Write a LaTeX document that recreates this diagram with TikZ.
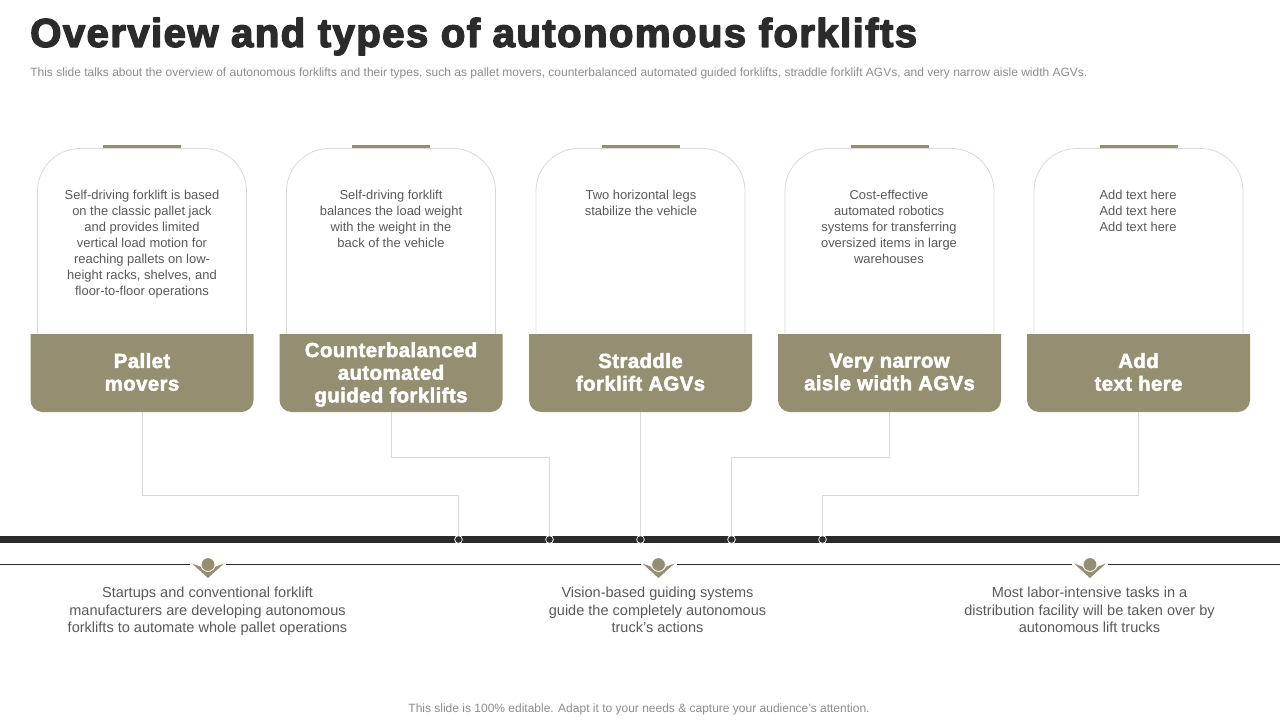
\documentclass[tikz,border=0pt]{standalone}
\usepackage{fontspec}
\setmainfont{Liberation Sans}
\newfontfamily\blackfont[FakeBold=3.6,LetterSpace=3.5]{Liberation Sans Bold}
\newfontfamily\headfont[FakeBold=2.4,LetterSpace=2]{Liberation Sans Bold}
\definecolor{olive}{HTML}{938F70}
\definecolor{ink}{HTML}{2B2B2B}
\definecolor{cardline}{HTML}{D9D9D9}
\definecolor{bodytext}{HTML}{595959}
\definecolor{notetext}{HTML}{8C8C8C}
\tikzset{
	headbox/.style={minimum width=166.5pt, minimum height=58.5pt, inner sep=0pt, align=center, text=white, font=\headfont\fontsize{15.3}{17}\selectfont},
	cardtext/.style={anchor=north, inner sep=0pt, align=center, text=bodytext, font=\fontsize{9.7}{12}\selectfont},
	notetxt/.style={anchor=north, inner sep=0pt, align=center, text=bodytext, font=\fontsize{10.9}{13.1}\selectfont},
	link/.style={draw=cardline, line width=0.6pt},
	busdot/.style={circle, draw=white, fill=ink, line width=0.6pt, minimum size=5.8pt, inner sep=0pt},
}
\begin{document}
\begin{tikzpicture}[x=0.75pt, y=-0.75pt, line join=round]
	\useasboundingbox (0,0) rectangle (1280,720);
	\node[anchor=west, inner sep=0pt, text=ink, font=\blackfont\fontsize{30.1}{32}\selectfont] (title) at (30,36.5) {Overview and types of autonomous forklifts};
	\node[anchor=west, inner sep=0pt, text=notetext, font=\fontsize{9}{10}\selectfont] (sub) at (30,73) {This slide talks about the overview of autonomous forklifts and their types, such as pallet movers, counterbalanced automated guided forklifts, straddle forklift AGVs, and very narrow aisle width AGVs.};
	% cards
	\foreach \x in {142, 391, 640.5, 889.5, 1138.5} {
		\draw[cardline, line width=0.6pt, rounded corners=32pt] (\x-104.5,334) -- (\x-104.5,148.5) -- (\x+104.5,148.5) -- (\x+104.5,334);
		\fill[olive] (\x-39,145.5) rectangle (\x+39,148.5);
		\fill[olive] (\x-111.5,334) -- (\x+111.5,334) [rounded corners=9pt] -- (\x+111.5,412) -- (\x-111.5,412) [sharp corners] -- cycle;
	}
	\node[headbox] (pallet) at (142,372) {Pallet\\movers};
	\node[headbox] (counter) at (391,374.5) {Counterbalanced\\automated\\guided forklifts};
	\node[headbox] (straddle) at (640.5,372) {Straddle\\forklift AGVs};
	\node[headbox] (narrow) at (889.5,372) {Very narrow\\aisle width AGVs};
	\node[headbox] (addtext) at (1138.5,372) {Add\\text here};
	\node[cardtext] (palletnote) at (142,189.5) {Self-driving forklift is based\\on the classic pallet jack\\and provides limited\\vertical load motion for\\reaching pallets on low-\\height racks, shelves, and\\floor-to-floor operations};
	\node[cardtext] (counternote) at (391,189.5) {Self-driving forklift\\balances the load weight\\with the weight in the\\back of the vehicle};
	\node[cardtext] (straddlenote) at (641,189.5) {Two horizontal legs\\stabilize the vehicle};
	\node[cardtext] (narrownote) at (889,189.5) {Cost-effective\\automated robotics\\systems for transferring\\oversized items in large\\warehouses};
	\node[cardtext] (addnote) at (1138,189.5) {Add text here\\Add text here\\Add text here};
	% bar
	\fill[ink] (0,536) rectangle (1280,543);
	\draw[ink, line width=0.75pt] (0,564.5) -- (1280,564.5);
	\node[busdot] (dota) at (458.5,539.5) {};
	\node[busdot] (dotb) at (549.5,539.5) {};
	\node[busdot] (dotc) at (640.5,539.5) {};
	\node[busdot] (dotd) at (731.5,539.5) {};
	\node[busdot] (dote) at (822.5,539.5) {};
	\coordinate (benda) at (458.5,495.5);
	\coordinate (bendb) at (549.5,457.5);
	\coordinate (bendd) at (731.5,457.5);
	\coordinate (bende) at (822.5,495.5);
	\draw[link] (pallet.south |- 0,412) |- (benda) -- (dota.north);
	\draw[link] (counter.south |- 0,412) |- (bendb) -- (dotb.north);
	\draw[link] (straddle.south |- 0,412) -- (dotc.north);
	\draw[link] (narrow.south |- 0,412) |- (bendd) -- (dotd.north);
	\draw[link] (addtext.south |- 0,412) |- (bende) -- (dote.north);
	% icons
	\foreach \x in {208,658.5,1090} {
		\fill[white] (\x-18,560) rectangle (\x+18,566);
		\fill[olive] (\x-16,563.5) -- (\x-7.5,566.7) arc[start angle=160, end angle=20, radius=8] -- (\x+16,563.5) -- (\x,578) -- cycle;
		\fill[olive] (\x,564.5) circle[radius=6.4];
	}
	\node[notetxt] (notea) at (207.5,587) {Startups and conventional forklift\\manufacturers are developing autonomous\\forklifts to automate whole pallet operations};
	\node[notetxt] (noteb) at (657.5,587) {Vision-based guiding systems\\guide the completely autonomous\\truck's actions};
	\node[notetxt] (notec) at (1089.5,587) {Most labor-intensive tasks in a\\distribution facility will be taken over by\\autonomous lift trucks};
	\node[inner sep=0pt, text=notetext, font=\fontsize{9}{11}\selectfont] (foot) at (639,709.5) {This slide is 100\% editable. Adapt it to your needs \& capture your audience's attention.};
\end{tikzpicture}
\end{document}
